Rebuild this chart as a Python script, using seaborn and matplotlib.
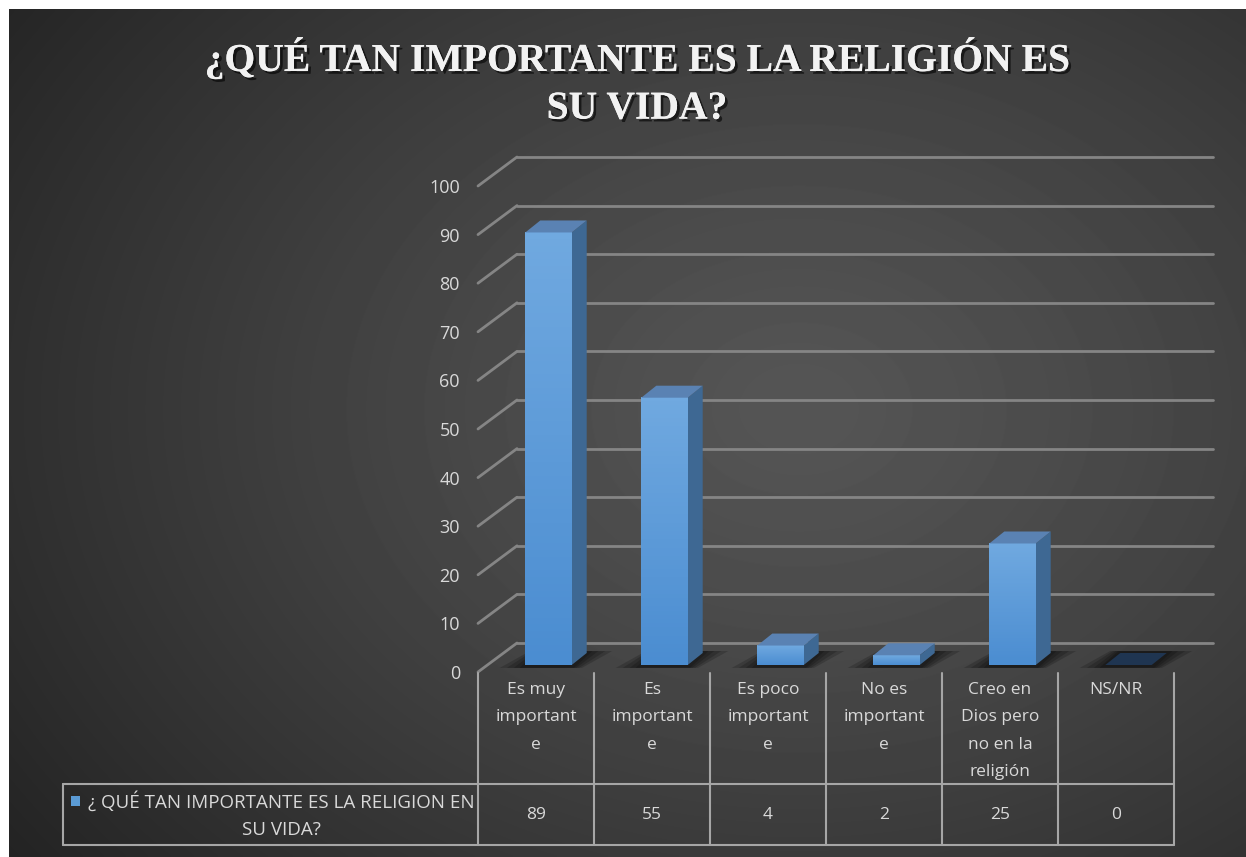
import numpy as np
import matplotlib
matplotlib.use("Agg")
import matplotlib.pyplot as plt
import matplotlib.patheffects as pe
from matplotlib import transforms
from matplotlib.colors import LinearSegmentedColormap
from matplotlib.patches import Polygon, Rectangle
import seaborn as sns

# data
categories = ["Es muy importante", "Es importante", "Es poco importante",
              "No es importante", "Creo en Dios pero no en la religión", "NS/NR"]
header_labels = ["Es muy\nimportant\ne", "Es\nimportant\ne", "Es poco\nimportant\ne",
                 "No es\nimportant\ne", "Creo en\nDios pero\nno en la\nreligión", "NS/NR"]
values = [89, 55, 4, 2, 25, 0]
y_ticks = list(range(0, 101, 10))
series_name = "¿ QUÉ TAN IMPORTANTE ES LA RELIGION EN\nSU VIDA?"
title = "¿QUÉ TAN IMPORTANTE ES LA RELIGIÓN ES\nSU VIDA?"

W, H = 1246, 857
sns.set_theme(style="white")
plt.rcParams["font.family"] = ["Open Sans", "DejaVu Sans"]

txt_col = "#d9d9d9"
grid_col = "#858585"
table_col = "#a6a6a6"

fig = plt.figure(figsize=(W / 100, H / 100), dpi=100, facecolor="white")


def fx(px):
    return px / W


def fy(py):
    return 1 - py / H


# dark background with a soft light in the middle
bg = fig.add_axes([fx(9), 0, 1 - fx(9), 1 - 9 / H])
yy, xx = np.mgrid[0:848, 0:1237]
r = np.sqrt(((xx - 790) / 1000) ** 2 + ((yy - 400) / 760) ** 2)
shade = np.clip(0.335 - 0.2 * r ** 1.2, 0.14, 1)
bg.imshow(shade, cmap="gray", vmin=0, vmax=1, aspect="auto", interpolation="bilinear")
bg.set_axis_off()

# main axes = front plane of the 3D box
ax = fig.add_axes([fx(478), fy(672), fx(1174 - 478), (672 - 186) / H])
ax.patch.set_alpha(0)
sns.barplot(x=categories, y=values, ax=ax, width=0.4, color="#5b9bd5",
            saturation=1, zorder=3)
ax.set_xlim(-0.5, 5.5)
ax.set_ylim(0, 100)
ax.set_yticks(y_ticks)
ax.set_xticks([])
ax.set_xlabel("")
ax.set_ylabel("")
ax.tick_params(axis="y", length=0, pad=13, labelcolor=txt_col, labelsize=13)
sns.despine(ax=ax, left=True, bottom=True)


def shifted(dx, dy):
    return transforms.offset_copy(ax.transData, fig=fig, x=dx, y=dy, units="dots")


p0 = ax.transData.transform((0, 0))
p1 = ax.transData.transform((1, 1))
ux, uy = p1 - p0
wall_tr = shifted(39, 29)
bar_tr = shifted(12.5, 7)
ddx, ddy = 15 / ux, 12 / uy

# back wall gridlines and the diagonals on the left side
for k in y_ticks:
    ax.plot([-0.5, 5.5], [k, k], transform=wall_tr, color=grid_col, lw=2,
            clip_on=False, zorder=1)
    ax.plot([-0.5, -0.5 + 39 / ux], [k, k + 29 / uy], color=grid_col, lw=2,
            clip_on=False, zorder=1)

front_cmap = LinearSegmentedColormap.from_list("front", ["#4b8dd1", "#70a9e0"])
grad = np.linspace(0, 1, 64).reshape(-1, 1)

for p, v in zip(list(ax.patches), values):
    x0 = p.get_x()
    x1 = x0 + p.get_width()
    h = p.get_height()
    p.set_transform(bar_tr)
    p.set_clip_on(False)
    p.set_edgecolor("none")
    # blurred shadow on the floor
    for m in [0.22, 0.16, 0.1, 0.05]:
        ax.add_patch(Polygon([(x0 - m, -0.6), (x1 + m * 0.4, -0.6),
                              (x1 + ddx + m, ddy + 0.4), (x0 + ddx - m * 0.4, ddy + 0.4)],
                             closed=True, transform=bar_tr, facecolor="black",
                             edgecolor="none", alpha=0.18, clip_on=False, zorder=2))
    if h > 0:
        ax.imshow(grad, cmap=front_cmap, extent=(x0, x1, 0, h), origin="lower",
                  aspect="auto", transform=bar_tr, zorder=3.2, clip_on=False)
        ax.add_patch(Polygon([(x1, 0), (x1 + ddx, ddy), (x1 + ddx, h + ddy), (x1, h)],
                             closed=True, transform=bar_tr, facecolor="#3e6893",
                             edgecolor="none", clip_on=False, zorder=3))
        top_col = "#5a82b3"
    else:
        top_col = "#1f3551"
    ax.add_patch(Polygon([(x0, h), (x1, h), (x1 + ddx, h + ddy), (x0 + ddx, h + ddy)],
                         closed=True, transform=bar_tr, facecolor=top_col,
                         edgecolor="none", clip_on=False, zorder=3.3))

ax.set_xlim(-0.5, 5.5)
ax.set_ylim(0, 100)

# data table under the chart
tab = fig.add_axes([fx(63), fy(845), fx(1174 - 63), (845 - 673) / H])
tab.set_axis_off()
left = -0.5 - (478 - 63) / 116
tab.set_xlim(left, 5.5)
tab.set_ylim(0, 172)
n = len(categories)
for i in range(n + 1):
    tab.plot([i - 0.5, i - 0.5], [0, 172], color=table_col, lw=1.5, clip_on=False)
tab.plot([left, left], [0, 61], color=table_col, lw=1.5, clip_on=False)
for yv in [0, 61]:
    tab.plot([left, 5.5], [yv, yv], color=table_col, lw=1.5, clip_on=False)

for i, (lab, v) in enumerate(zip(header_labels, values)):
    tab.text(i, 163, lab, ha="center", va="top", color=txt_col, fontsize=12.5,
             linespacing=1.95)
    tab.text(i, 30, str(v), ha="center", va="center", color=txt_col, fontsize=12.5)

tab.add_patch(Rectangle((-0.5 - (478 - 71) / 116, 39), 9 / 116, 10,
                        facecolor="#5b9bd5", edgecolor="none", clip_on=False))
tab.text(-0.5 - (478 - 281) / 116, 30, series_name, ha="center", va="center",
         color=txt_col, fontsize=13.5, linespacing=1.7)

# title
fig.text(fx(637), fy(36), title, ha="center", va="top", color="#f2f2f2",
         fontsize=28.5, fontweight="bold", family=["Liberation Serif", "DejaVu Serif"],
         linespacing=1.38,
         path_effects=[pe.withSimplePatchShadow(offset=(2, -2), shadow_rgbFace="black",
                                                alpha=0.6), pe.Normal()])

fig.savefig("out.png", dpi=100, facecolor=fig.get_facecolor())
